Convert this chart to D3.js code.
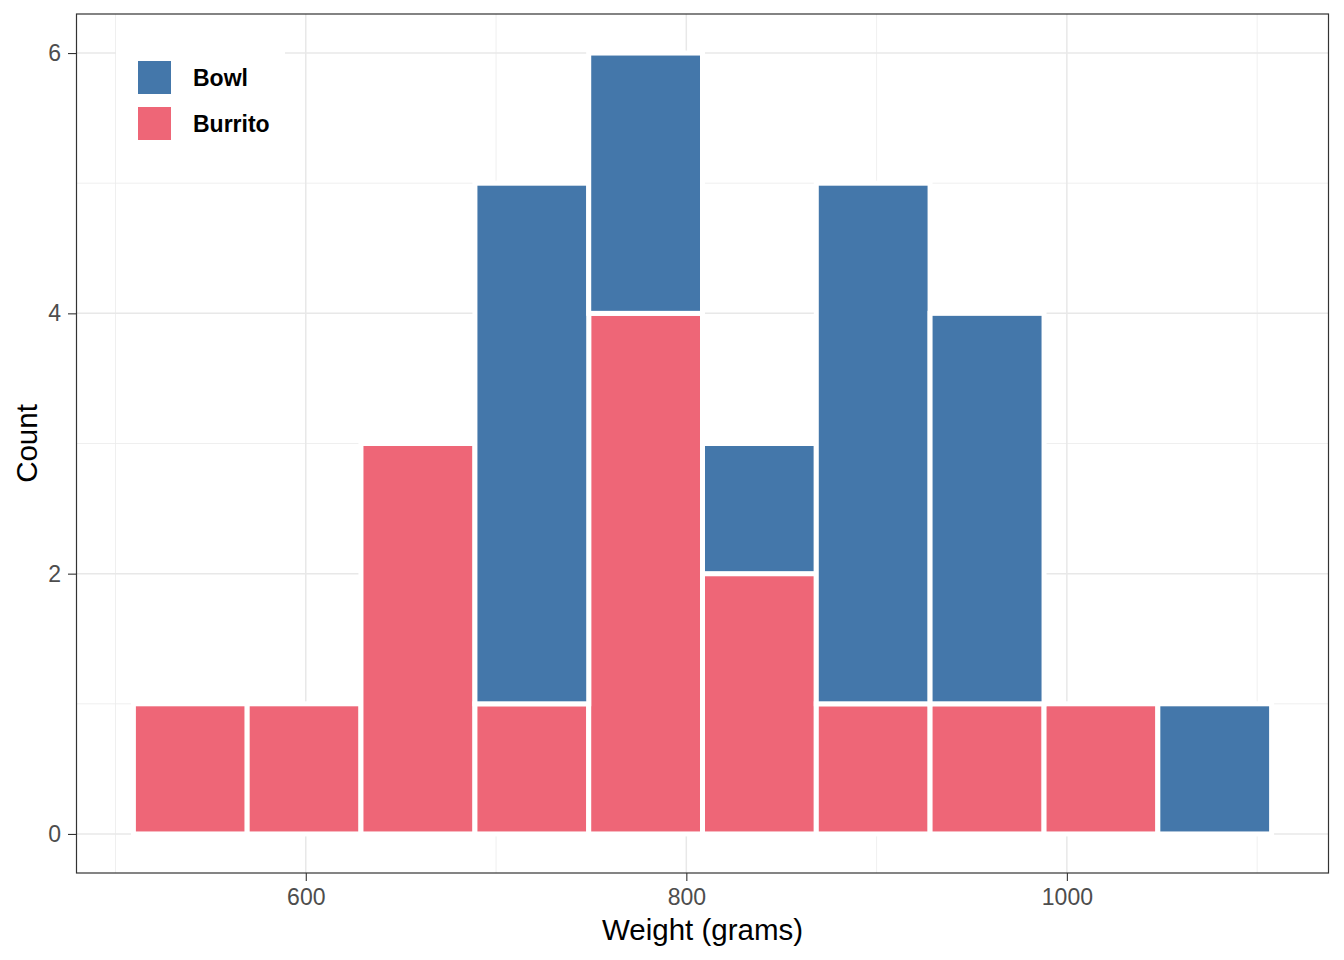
<!DOCTYPE html>
<html>
<head>
<meta charset="utf-8">
<script src="https://cdn.jsdelivr.net/npm/d3@7"></script>
<style>
  html, body { margin: 0; padding: 0; background: #ffffff; }
  svg { display: block; font-family: "Liberation Sans", Arial, sans-serif; }
</style>
</head>
<body>
<svg id="chart" width="1344" height="960"></svg>
<script>
// ---- Data ----
const binEdges = [509.4, 569.2, 629.0, 688.9, 748.7, 808.5, 868.3, 928.1, 988.0, 1047.8, 1107.6];
const burritoCounts = [1, 1, 3, 1, 4, 2, 1, 1, 1, 0];
const bowlCounts    = [0, 0, 0, 4, 2, 1, 4, 3, 0, 1];
const seriesNames = ["Bowl", "Burrito"];
const seriesColors = ["#4477AA", "#EE6677"];
const xTicks = [600, 800, 1000];
const xMinor = [500, 700, 900, 1100];
const yTicks = [0, 2, 4, 6];
const yMinor = [1, 3, 5];
const xDomain = [479.5, 1137.5];
const yDomain = [-0.3, 6.3];

// ---- Layout ----
const panel = { left: 76.5, right: 1328.5, top: 14, bottom: 873 };
const svg = d3.select("#chart");

const x = d3.scaleLinear().domain(xDomain).range([panel.left, panel.right]);
const y = d3.scaleLinear().domain(yDomain).range([panel.bottom, panel.top]);

const grid = svg.append("g");
grid.selectAll("line.xminor").data(xMinor).join("line")
  .attr("x1", d => x(d)).attr("x2", d => x(d))
  .attr("y1", panel.top).attr("y2", panel.bottom)
  .attr("stroke", "#EBEBEB").attr("stroke-width", 0.8);
grid.selectAll("line.yminor").data(yMinor).join("line")
  .attr("y1", d => y(d)).attr("y2", d => y(d))
  .attr("x1", panel.left).attr("x2", panel.right)
  .attr("stroke", "#EBEBEB").attr("stroke-width", 0.8);
grid.selectAll("line.xmajor").data(xTicks).join("line")
  .attr("x1", d => x(d)).attr("x2", d => x(d))
  .attr("y1", panel.top).attr("y2", panel.bottom)
  .attr("stroke", "#E8E8E8").attr("stroke-width", 1.5);
grid.selectAll("line.ymajor").data(yTicks).join("line")
  .attr("y1", d => y(d)).attr("y2", d => y(d))
  .attr("x1", panel.left).attr("x2", panel.right)
  .attr("stroke", "#E8E8E8").attr("stroke-width", 1.5);

// ---- Bars (stacked: Burrito bottom, Bowl top) ----
const rows = burritoCounts.map((b, i) => ({
  x0: binEdges[i], x1: binEdges[i + 1], Burrito: b, Bowl: bowlCounts[i]
}));
const stacked = d3.stack().keys(["Burrito", "Bowl"])(rows);
const colorOf = { Bowl: seriesColors[0], Burrito: seriesColors[1] };

const bars = svg.append("g");
stacked.forEach(layer => {
  bars.selectAll(null).data(layer.filter(d => d[1] - d[0] > 0)).join("rect")
    .attr("x", d => x(d.data.x0))
    .attr("width", d => x(d.data.x1) - x(d.data.x0))
    .attr("y", d => y(d[1]))
    .attr("height", d => y(d[0]) - y(d[1]))
    .attr("fill", colorOf[layer.key])
    .attr("stroke", "#ffffff")
    .attr("stroke-width", 5);
});

// ---- Legend ----
const legend = svg.append("g");
legend.append("rect")
  .attr("x", 116).attr("y", 39).attr("width", 169).attr("height", 122)
  .attr("fill", "#ffffff");
seriesNames.forEach((name, i) => {
  const ky = 61 + i * 46;
  legend.append("rect")
    .attr("x", 138).attr("y", ky).attr("width", 33).attr("height", 33)
    .attr("fill", seriesColors[i]);
  legend.append("text")
    .attr("x", 193).attr("y", ky + 16.5 + 8.5)
    .attr("font-size", 23).attr("font-weight", "bold").attr("fill", "#000")
    .text(name);
});

// ---- Axes ----
const xAxis = svg.append("g")
  .attr("transform", `translate(0,${panel.bottom})`)
  .call(d3.axisBottom(x).tickValues(xTicks).tickSize(8).tickPadding(8).tickFormat(d3.format("d")));
const yAxis = svg.append("g")
  .attr("transform", `translate(${panel.left},0)`)
  .call(d3.axisLeft(y).tickValues(yTicks).tickSize(8.5).tickPadding(7).tickFormat(d3.format("d")));
[xAxis, yAxis].forEach(ax => {
  ax.select(".domain").remove();
  ax.selectAll(".tick line").attr("stroke", "#333333").attr("stroke-width", 1.1);
  ax.selectAll(".tick text").attr("fill", "#4D4D4D").attr("font-size", 23)
    .attr("font-family", "\"Liberation Sans\", Arial, sans-serif");
});

// ---- Panel border ----
svg.append("rect")
  .attr("x", panel.left).attr("y", panel.top)
  .attr("width", panel.right - panel.left).attr("height", panel.bottom - panel.top)
  .attr("fill", "none").attr("stroke", "#333333").attr("stroke-width", 1.2);

// ---- Axis titles ----
svg.append("text")
  .attr("x", (panel.left + panel.right) / 2).attr("y", 939.5)
  .attr("text-anchor", "middle").attr("font-size", 29.5).attr("fill", "#000")
  .text("Weight (grams)");
svg.append("text")
  .attr("transform", `translate(37,${(panel.top + panel.bottom) / 2}) rotate(-90)`)
  .attr("text-anchor", "middle").attr("font-size", 29.5).attr("fill", "#000")
  .text("Count");
</script>
</body>
</html>
